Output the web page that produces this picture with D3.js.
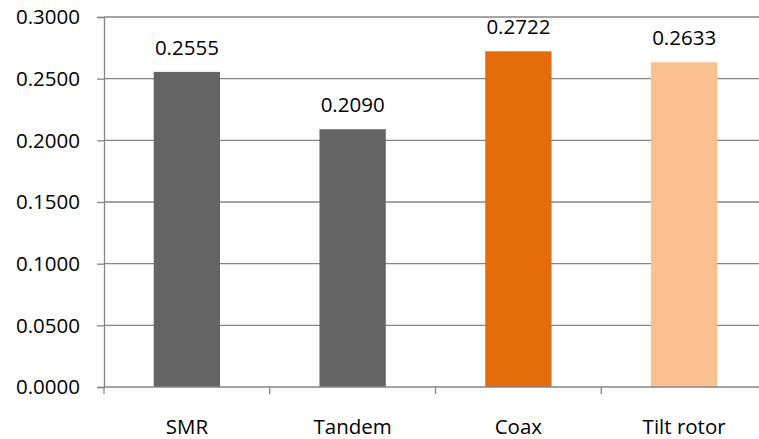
<!DOCTYPE html>
<html><head><meta charset="utf-8">
<script src="https://cdn.jsdelivr.net/npm/d3@7"></script>
<style>body{margin:0;background:#fff}svg{display:block}</style>
</head><body>
<svg id="c" width="759" height="439"></svg>
<script>
const categories = ["SMR", "Tandem", "Coax", "Tilt rotor"];
const values = [0.2555, 0.2090, 0.2722, 0.2633];
const colors = ["#646464", "#646464", "#E46C0A", "#FAC090"];
const yTicks = [0, 0.05, 0.1, 0.15, 0.2, 0.25, 0.3];

(function () {
const svg = d3.select("#c");
const mLeft = 104, mRight = 767, mTop = 17, mBottom = 387;
const font = "'Open Sans', sans-serif";
const fs = 20.5;

const x = d3.scaleBand().domain(categories).range([mLeft, mRight]).paddingInner(0.6).paddingOuter(0.3);
const y = d3.scaleLinear().domain([0, 0.3]).range([mBottom, mTop]);
const gridColor = "#868686";

svg.append("g").selectAll("line").data(yTicks.filter(d => d > 0)).join("line")
  .attr("x1", mLeft).attr("x2", mRight)
  .attr("y1", d => y(d)).attr("y2", d => y(d))
  .attr("stroke", gridColor).attr("stroke-width", 1.3);

svg.append("g").selectAll("rect").data(values).join("rect")
  .attr("x", (d, i) => x(categories[i]))
  .attr("width", x.bandwidth())
  .attr("y", d => y(d))
  .attr("height", d => y(0) - y(d))
  .attr("fill", (d, i) => colors[i]);

const yAxis = d3.axisLeft(y).tickValues(yTicks).tickFormat(d3.format(".4f")).tickSize(7).tickPadding(17);
const gy = svg.append("g").attr("transform", `translate(${mLeft},0)`).call(yAxis);
gy.select(".domain").attr("stroke", gridColor).attr("stroke-width", 1.3);
gy.selectAll(".tick line").attr("stroke", gridColor).attr("stroke-width", 1.3);
gy.selectAll("text").attr("font-family", font).attr("font-size", fs).attr("fill", "#000").attr("dy", "0.34em");

const step = (mRight - mLeft) / categories.length;
const gx = svg.append("g");
gx.append("line").attr("x1", mLeft).attr("x2", mRight).attr("y1", mBottom).attr("y2", mBottom)
  .attr("stroke", gridColor).attr("stroke-width", 1.3);
gx.selectAll("line.t").data(d3.range(categories.length + 1)).join("line").attr("class", "t")
  .attr("x1", i => mLeft + i * step).attr("x2", i => mLeft + i * step)
  .attr("y1", mBottom).attr("y2", mBottom + 7)
  .attr("stroke", gridColor).attr("stroke-width", 1.3);
gx.selectAll("text").data(categories).join("text")
  .attr("x", d => x(d) + x.bandwidth() / 2).attr("y", 434)
  .attr("text-anchor", "middle").attr("font-family", font).attr("font-size", fs).attr("fill", "#000")
  .text(d => d);

svg.append("g").selectAll("text").data(values).join("text")
  .attr("x", (d, i) => x(categories[i]) + x.bandwidth() / 2)
  .attr("y", d => y(d) - 17)
  .attr("text-anchor", "middle").attr("font-family", font).attr("font-size", fs).attr("fill", "#000")
  .text(d => d3.format(".4f")(d));
})();
</script>
</body></html>
